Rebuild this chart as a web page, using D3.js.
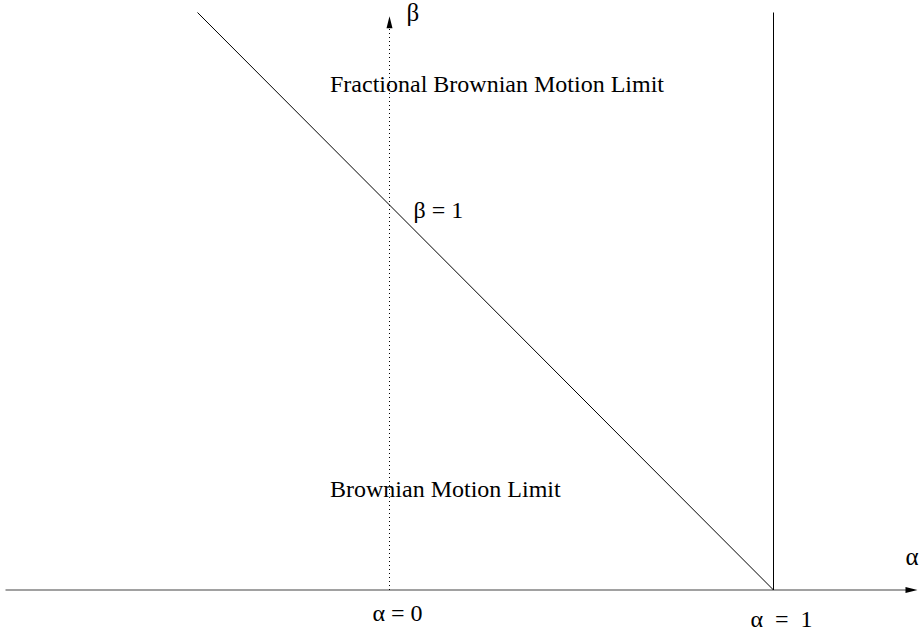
<!DOCTYPE html>
<html><head><meta charset="utf-8">
<script src="https://cdn.jsdelivr.net/npm/d3@7"></script>
<style>body{margin:0;background:#fff;} svg{display:block;} text{font-family:"Liberation Serif","Times New Roman","DejaVu Serif",serif;fill:#000;}</style>
</head><body>
<svg id="c" width="919" height="635"></svg>
<script>
// Data (alpha, beta coordinates)
const alphaDomain = [-1, 1.375];
const betaDomain = [0, 1.49];
const diagonalLine = [[-0.5, 1.5], [1, 0]];      // beta = 1 - alpha
const verticalLine = [[1, 1.5], [1, 0]];         // alpha = 1
const alphaTickValues = [0, 1];
const alphaTickLabels = ["α = 0", "α  =  1"];
const betaTickValues = [1];
const betaTickLabels = ["β = 1"];
const regionLabels = ["Fractional Brownian Motion Limit", "Brownian Motion Limit"];
const axisNames = ["α", "β"];

const svg = d3.select("#c");
const x = d3.scaleLinear().domain([0, 1]).range([389.5, 773.5]);
const y = d3.scaleLinear().domain([0, 1]).range([590, 205]);
const line = d3.line().x(d => x(d[0])).y(d => y(d[1]));

// x axis
svg.append("line").attr("x1", x(alphaDomain[0])).attr("x2", x(alphaDomain[1]) - 10)
  .attr("y1", y(0)).attr("y2", y(0)).attr("stroke", "#444").attr("stroke-width", 1.1);
svg.append("path").attr("d", `M${x(alphaDomain[1])},${y(0)} l-12,-3 l0,6 z`).attr("fill", "#000");

// y axis (dotted)
svg.append("line").attr("x1", x(0)).attr("x2", x(0))
  .attr("y1", y(0)).attr("y2", y(betaDomain[1]) + 12)
  .attr("stroke", "#000").attr("stroke-width", 1).attr("stroke-dasharray", "1,3");
svg.append("path").attr("d", `M${x(0)},${y(betaDomain[1])} l-3,12 l6,0 z`).attr("fill", "#000");

// boundaries
svg.append("path").attr("d", line(diagonalLine)).attr("fill", "none").attr("stroke", "#000").attr("stroke-width", 1);
svg.append("path").attr("d", line(verticalLine)).attr("fill", "none").attr("stroke", "#000").attr("stroke-width", 1);

// labels
const fs = 24;
svg.append("text").attr("x", x(0) + 17).attr("y", 21).attr("font-size", 25).text(axisNames[1]);
svg.append("text").attr("x", x(alphaDomain[1]) - 12).attr("y", 565).attr("font-size", 25).text(axisNames[0]);

svg.append("text").attr("x", 330).attr("y", 92).attr("font-size", fs).text(regionLabels[0]);
svg.append("text").attr("x", 330).attr("y", 497).attr("font-size", fs).text(regionLabels[1]);

svg.append("text").attr("x", x(0) + 24).attr("y", y(betaTickValues[0]) + 13)
  .attr("font-size", fs).style("white-space", "pre").text(betaTickLabels[0]);

svg.selectAll(".at").data(alphaTickValues).enter().append("text")
  .attr("x", (d, i) => x(d) + (i === 0 ? -17 : -23))
  .attr("y", (d, i) => i === 0 ? 621 : 627)
  .attr("font-size", fs).style("white-space", "pre")
  .text((d, i) => alphaTickLabels[i]);
</script>
</body></html>
